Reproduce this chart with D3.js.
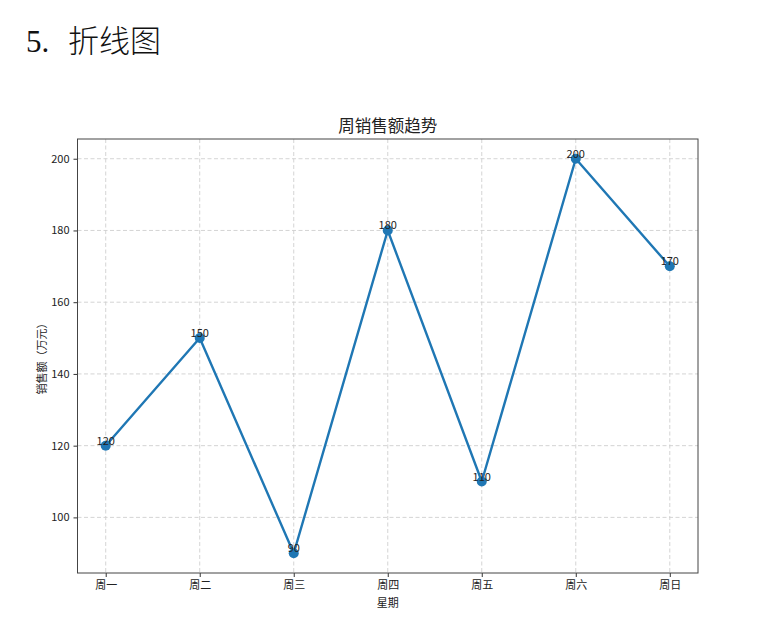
<!DOCTYPE html>
<html>
<head>
<meta charset="utf-8">
<script src="https://cdn.jsdelivr.net/npm/d3@7"></script>
<style>
  body { margin: 0; background: #fff; }
  #chart { font-family: "Noto Sans CJK SC", "DejaVu Sans", sans-serif; }
</style>
</head>
<body>
<svg id="chart"></svg>
<script>
// chart data
const days = ["周一", "周二", "周三", "周四", "周五", "周六", "周日"];
const sales = [120, 150, 90, 180, 110, 200, 170];
const yTicks = [100, 120, 140, 160, 180, 200];

const width = 761, height = 622;
const margin = {top: 139, right: 63, bottom: 49, left: 77.5};

const svg = d3.select("#chart").attr("width", width).attr("height", height);

// page heading
svg.append("text")
    .attr("x", 26).attr("y", 52)
    .attr("font-family", "Liberation Serif, Times New Roman, serif")
    .attr("font-size", 31)
    .attr("fill", "#111")
    .text("5.");
svg.append("text")
    .attr("x", 68).attr("y", 52)
    .attr("font-family", "Noto Sans CJK SC")
    .attr("font-weight", 300)
    .attr("font-size", 31)
    .attr("fill", "#111")
    .text("折线图");

const xScale = d3.scaleLinear()
    .domain([-0.3, days.length - 1 + 0.3])
    .range([margin.left, width - margin.right]);
const [yMin, yMax] = d3.extent(sales);
const pad = (yMax - yMin) * 0.05;
const yScale = d3.scaleLinear()
    .domain([yMin - pad, yMax + pad])
    .range([height - margin.bottom, margin.top]);

const g = svg.append("g");

// grid
g.append("g").selectAll("line").data(days).join("line")
    .attr("x1", (d, i) => xScale(i)).attr("x2", (d, i) => xScale(i))
    .attr("y1", margin.top).attr("y2", height - margin.bottom)
    .attr("stroke", "#cfcfcf").attr("stroke-width", 0.9)
    .attr("stroke-dasharray", "4,2.5");
g.append("g").selectAll("line").data(yTicks).join("line")
    .attr("x1", margin.left).attr("x2", width - margin.right)
    .attr("y1", d => yScale(d)).attr("y2", d => yScale(d))
    .attr("stroke", "#cfcfcf").attr("stroke-width", 0.9)
    .attr("stroke-dasharray", "4,2.5");

// axes
const xAxis = d3.axisBottom(xScale)
    .tickValues(d3.range(days.length))
    .tickFormat(i => days[i])
    .tickSize(4).tickSizeOuter(0).tickPadding(4);
const yAxis = d3.axisLeft(yScale)
    .tickValues(yTicks)
    .tickSize(4).tickSizeOuter(0).tickPadding(4);

g.append("g")
    .attr("transform", `translate(0,${height - margin.bottom})`)
    .call(xAxis)
    .call(a => a.select(".domain").remove())
    .call(a => a.selectAll("text").attr("font-family", null).style("font-size", "11px").attr("fill", "#222"))
    .call(a => a.selectAll(".tick line").attr("stroke", "#333"));
g.append("g")
    .attr("transform", `translate(${margin.left},0)`)
    .call(yAxis)
    .call(a => a.select(".domain").remove())
    .call(a => a.selectAll("text").attr("font-family", null).style("font-size", "11px").attr("fill", "#222"))
    .call(a => a.selectAll(".tick line").attr("stroke", "#333"));
g.selectAll(".tick").each(function () { d3.select(this.parentNode).attr("font-family", null); });

// frame
g.append("rect")
    .attr("x", margin.left).attr("y", margin.top)
    .attr("width", width - margin.left - margin.right)
    .attr("height", height - margin.top - margin.bottom)
    .attr("fill", "none").attr("stroke", "#444").attr("stroke-width", 1);

// line + markers
const line = d3.line()
    .x((d, i) => xScale(i))
    .y(d => yScale(d));
g.append("path")
    .datum(sales)
    .attr("fill", "none")
    .attr("stroke", "#1f77b4")
    .attr("stroke-width", 2.4)
    .attr("stroke-linejoin", "round")
    .attr("d", line);
g.append("g").selectAll("circle").data(sales).join("circle")
    .attr("cx", (d, i) => xScale(i))
    .attr("cy", d => yScale(d))
    .attr("r", 5)
    .attr("fill", "#1f77b4");

// value labels
g.append("g").selectAll("text").data(sales).join("text")
    .attr("x", (d, i) => xScale(i))
    .attr("y", d => yScale(d) - 1)
    .attr("text-anchor", "middle")
    .style("font-size", "11px")
    .attr("fill", "#222")
    .text(d => d);

// titles
svg.append("text")
    .attr("x", (margin.left + width - margin.right) / 2)
    .attr("y", 132)
    .attr("text-anchor", "middle")
    .style("font-size", "16.5px")
    .attr("fill", "#222")
    .text("周销售额趋势");
svg.append("text")
    .attr("x", (margin.left + width - margin.right) / 2)
    .attr("y", 607)
    .attr("text-anchor", "middle")
    .style("font-size", "11px")
    .attr("fill", "#222")
    .text("星期");
svg.append("text")
    .attr("transform", `translate(46,${(margin.top + height - margin.bottom) / 2}) rotate(-90)`)
    .attr("text-anchor", "middle")
    .style("font-size", "11px")
    .attr("fill", "#222")
    .text("销售额（万元）");
</script>
</body>
</html>
